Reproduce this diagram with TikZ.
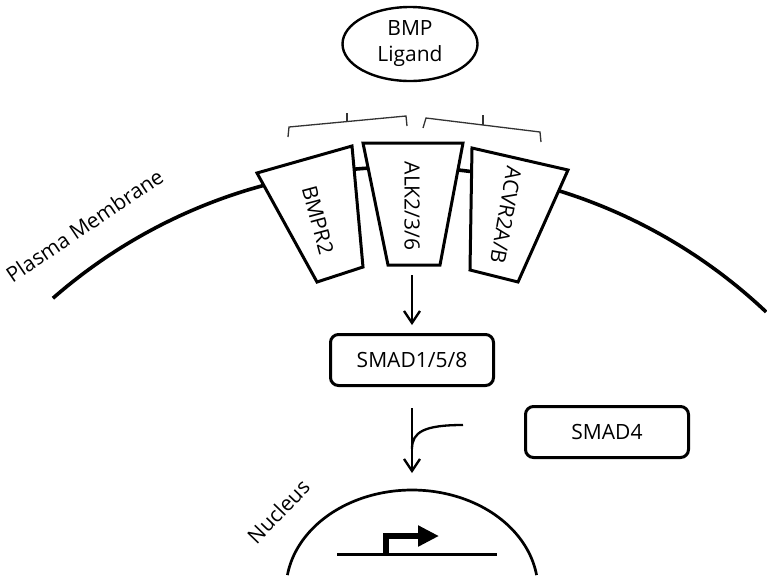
\documentclass[tikz,border=0pt]{standalone}
\usepackage{fontspec}
\setmainfont{Open Sans}
\usepackage{tikz}
\usetikzlibrary{arrows.meta,positioning,shapes.geometric}

\begin{document}
\begin{tikzpicture}[
  x=0.5pt, y=-0.5pt,
  font=\fontsize{10.5}{13}\selectfont,
  membrane/.style={line width=1.8pt},
  receptor/.style={draw, line width=1.5pt, fill=white},
  rlabel/.style={inner sep=0pt},
  ligand/.style={ellipse, draw, line width=1.2pt, minimum width=67.5pt, minimum height=37pt, inner sep=0pt, align=center},
  smadbox/.style={draw, line width=1.5pt, rounded corners=4pt, minimum width=81.5pt, minimum height=25.5pt},
  bracket/.style={line width=0.65pt, draw=black!80},
  arrow/.style={-{Straight Barb[length=6pt, width=8pt]}, line width=1.15pt},
  promoter/.style={-{Triangle[length=10.5pt, width=10pt]}, line width=3pt}
]
\useasboundingbox (0,0) rectangle (767,575);

\node[ligand] (ligand) at (410,44) {BMP\\Ligand};

\draw[membrane] plot[domain=-131.2:-46.6, samples=120] ({402+530*cos(\x)}, {697+530*sin(\x)});
\node[rotate=34, anchor=base] (plasma) at (89,232) {Plasma Membrane};

\draw[receptor] (257,173) -- (352,146) -- (363,267) -- (317,282) -- cycle;
\draw[receptor] (363,143) -- (463,143) -- (440,265) -- (388,265) -- cycle;
\draw[receptor] (472,148) -- (568,170) -- (518,282) -- (470,270) -- cycle;
\node[rlabel, rotate=-75] (bmpr2) at (318,220) {BMPR2};
\node[rlabel, rotate=-90] (alk) at (412,206) {ALK2/3/6};
\node[rlabel, rotate=-100] (acvr) at (506,215) {ACVR2A/B};

\draw[bracket] (288,137) -- (289,127) -- (406,116) -- (407,126);
\draw[bracket] (347,121) -- (347,113);
\draw[bracket] (423,128) -- (426,118) -- (540,132) -- (541,142);
\draw[bracket] (483,125) -- (483,115);

\node[smadbox] (smad158) at (412,360) {SMAD1/5/8};
\node[smadbox, right=14.5pt of smad158, yshift=-36pt] (smad4) {SMAD4};

\coordinate (alkfoot) at (412,265);
\coordinate (nuctop) at (412,490);
\coordinate (joinpt) at (412,449);
\coordinate (smad4tail) at (463,425);

\draw[arrow, shorten <=5pt, shorten >=4pt] (alkfoot) -- (smad158);
\draw[arrow, shorten <=10.5pt, shorten >=8.5pt] (smad158) -- (nuctop);
\draw[line width=1.15pt] (joinpt) .. controls (412,432) and (424,425) .. (smad4tail);

\draw[line width=1.35pt] plot[domain=-171.4:-8.6, samples=100] ({412+126*cos(\x)}, {590+100*sin(\x)});
\node[rotate=46, anchor=base] (nucleus) at (284,517) {Nucleus};

\coordinate (genestart) at (337,554);
\coordinate (geneend) at (497,554);
\draw[line width=1.5pt] (genestart) -- (geneend);
\draw[promoter] (386,555) |- (439,536);
\end{tikzpicture}
\end{document}
